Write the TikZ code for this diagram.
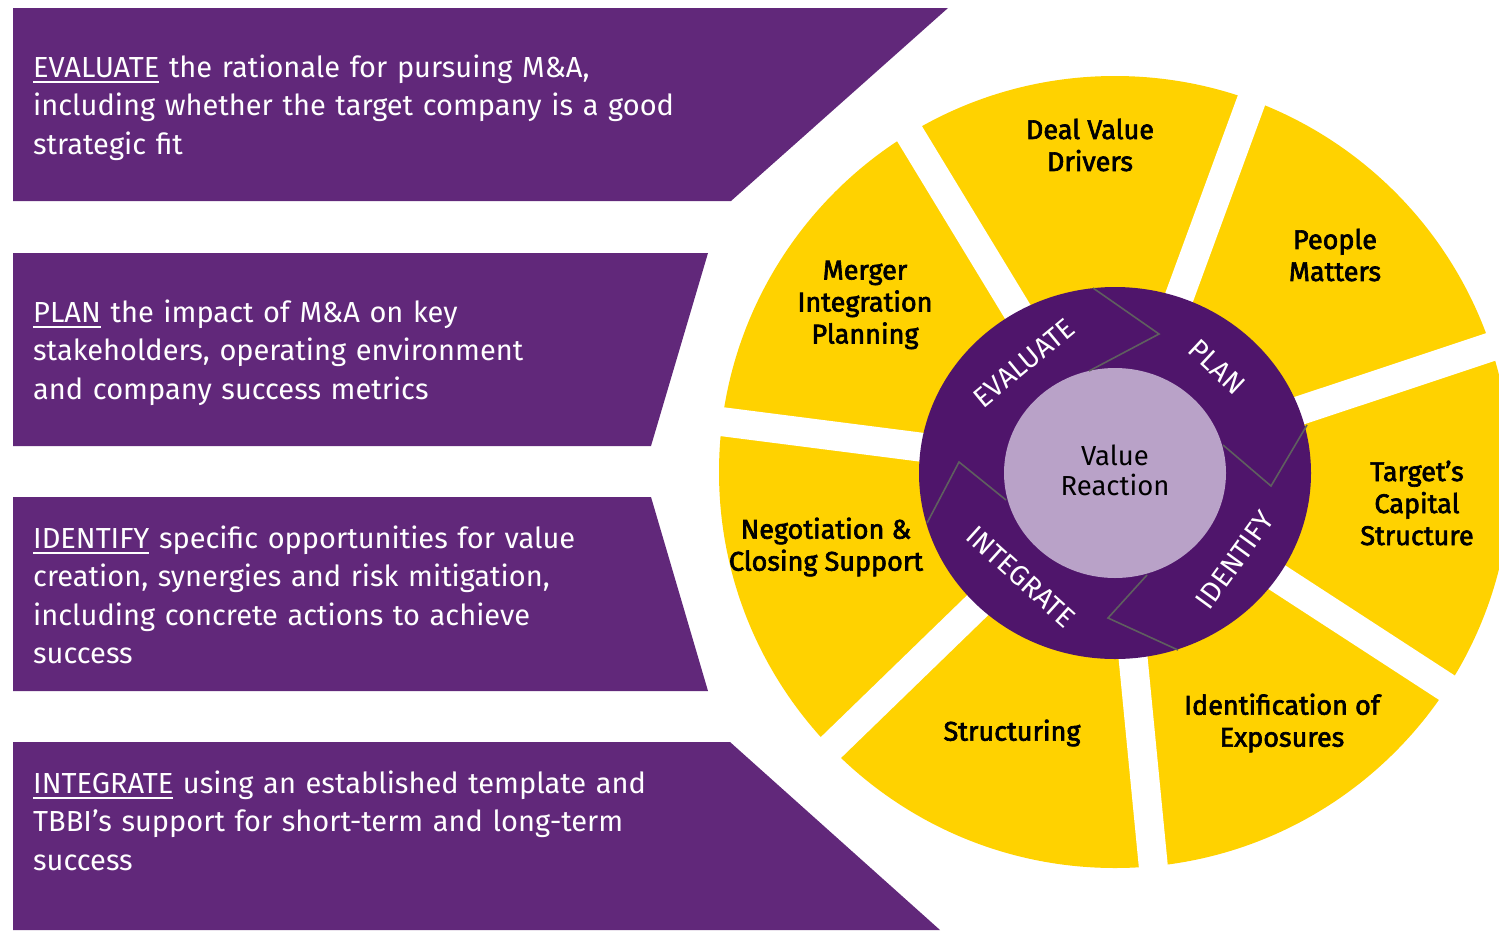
\documentclass[tikz,border=0pt]{standalone}
\usepackage{fontspec}
\setmainfont{Fira Sans}
\newfontfamily\medfont[FakeBold=2.4]{Fira Sans}
\definecolor{banner}{RGB}{97,40,122}
\definecolor{ring}{RGB}{79,21,107}
\definecolor{core}{RGB}{185,162,200}
\definecolor{gold}{RGB}{255,210,0}
\definecolor{chev}{RGB}{95,95,95}
\newcommand\ulword[1]{\setbox0=\hbox{#1}\rlap{\rule[-6pt]{\wd0}{2.5pt}}\box0\relax}
\tikzset{
  bannertext/.style={anchor=base west, text=white, text width=760pt, align=left, inner sep=0pt,
    font=\fontsize{29}{38.5}\selectfont},
  seglabel/.style={text=black, align=center, inner sep=0pt, font=\medfont\fontsize{27}{32}\selectfont},
  ringlabel/.style={text=white, inner sep=0pt, font=\fontsize{28}{30}\selectfont},
  chevline/.style={draw=chev, line width=1.6pt, line join=miter},
  gap/.style={draw=white, line width=29pt}
}
\begin{document}
\begin{tikzpicture}[x=1pt,y=-1pt]
\useasboundingbox (0,0) rectangle (1499,930);
\clip (0,0) rectangle (1499,930);
\fill[white] (0,0) rectangle (1499,930);
% banners
\fill[banner] (13,8) -- (948,8) -- (731,201) -- (13,201) -- cycle;
\fill[banner] (13,253) -- (708,253) -- (651,446) -- (13,446) -- cycle;
\fill[banner] (13,497) -- (651,497) -- (708,691) -- (13,691) -- cycle;
\fill[banner] (13,742) -- (730,742) -- (940,930) -- (13,930) -- cycle;
\node[bannertext] (tEval) at (33,77) {\ulword{EVALUATE} the rationale for pursuing M\&A,\\including whether the target company is a good\\strategic fit};
\node[bannertext] (tPlan) at (33,322) {\ulword{PLAN} the impact of M\&A on key\\stakeholders, operating environment\\and company success metrics};
\node[bannertext] (tIdent) at (33,548) {\ulword{IDENTIFY} specific opportunities for value\\creation, synergies and risk mitigation,\\including concrete actions to achieve\\success};
\node[bannertext] (tInteg) at (33,793) {\ulword{INTEGRATE} using an established template and\\TBBI’s support for short-term and long-term\\success};
% wheel
\coordinate (wc) at (1115,472);
\fill[gold] (wc) circle[radius=396pt];
\foreach \a in {172.7,121.27,69.84,18.41,-33.02,-84.45,-135.88}
  \draw[gap] (wc) -- ++(\a:440pt);
\fill[ring] (1115,473) ellipse[x radius=196pt, y radius=186pt];
\fill[core] (1115,473) ellipse[x radius=111pt, y radius=105pt];
% chevrons
\coordinate (c1a) at (1093,288); \coordinate (c1b) at (1159,334); \coordinate (c1c) at (1089,371);
\coordinate (c2a) at (1307,425); \coordinate (c2b) at (1271,486); \coordinate (c2c) at (1223,445);
\coordinate (c3a) at (1178,650); \coordinate (c3b) at (1108,618); \coordinate (c3c) at (1147,575);
\coordinate (c4a) at (927,523);  \coordinate (c4b) at (959,462);  \coordinate (c4c) at (1006,500);
\draw[chevline] (c1a) -- (c1b) -- (c1c);
\draw[chevline] (c2a) -- (c2b) -- (c2c);
\draw[chevline] (c3a) -- (c3b) -- (c3c);
\draw[chevline] (c4a) -- (c4b) -- (c4c);
% ring labels
\node[ringlabel, rotate=39.6] (rEval) at (1024,363) {EVALUATE};
\node[ringlabel, rotate=-43] (rPlan) at (1217,367) {PLAN};
\node[ringlabel, rotate=54] (rIdent) at (1235,560) {IDENTIFY};
\node[ringlabel, rotate=-42] (rInteg) at (1021,577) {INTEGRATE};
% centre
\node[align=center, inner sep=0pt, font=\fontsize{27.5}{30}\selectfont] (core) at (1115,470) {Value\\Reaction};
% segment labels
\node[seglabel] (sMerger) at (865,305) {Merger\\Integration\\Planning};
\node[seglabel] (sDeal) at (1090,145) {Deal Value\\Drivers};
\node[seglabel] (sPeople) at (1335,255) {People\\Matters};
\node[seglabel] (sTarget) at (1417,503) {Target’s\\Capital\\Structure};
\node[seglabel] (sNeg) at (826,547) {Negotiation \&\\Closing Support};
\node[seglabel] (sStruct) at (1012,733) {Structuring};
\node[seglabel] (sIdent) at (1282,723) {Identification of\\Exposures};
\end{tikzpicture}
\end{document}
